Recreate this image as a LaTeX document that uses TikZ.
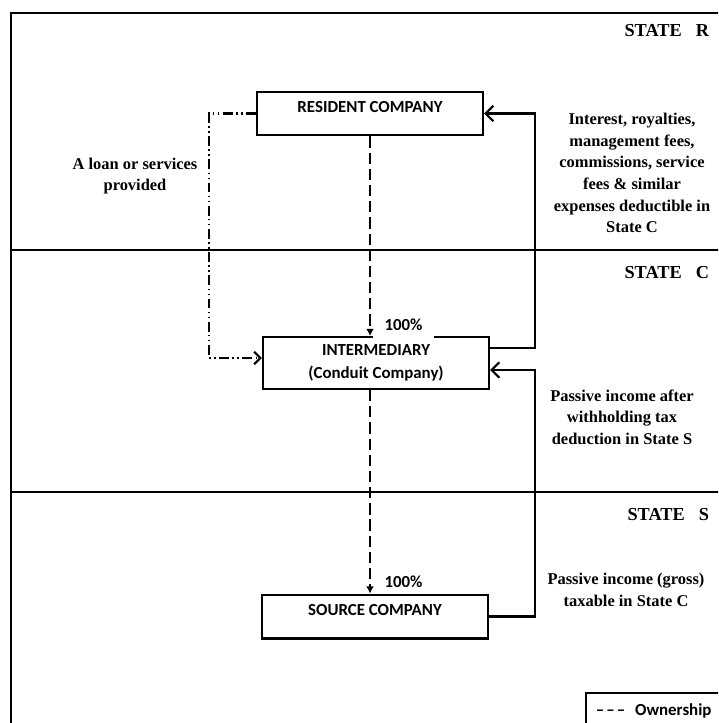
\documentclass[tikz,border=0pt]{standalone}
\usepackage{fontspec}
\setmainfont{Liberation Serif}
\newfontfamily\calfont{Carlito}
\usetikzlibrary{arrows.meta}
\usetikzlibrary{positioning}
\tikzset{company/.style = {draw, line width=1.5pt, minimum width=5.65cm,
                           font=\calfont\bfseries\fontsize{12}{16.4}\selectfont},
         oneline/.style = {text height=14.8pt, text depth=16.4pt, inner ysep=0pt},
         note/.style = {font=\fontsize{11.7}{15.4}\selectfont\bfseries, align=center},
         state/.style = {font=\fontsize{13}{15}\selectfont\bfseries, anchor=east},
         pct/.style = {font=\calfont\bfseries\fontsize{12}{14}\selectfont, fill=white, inner sep=1pt},
         own/.style = {line width=1.5pt, dash pattern=on 8pt off 3.5pt,
                       -{Latex[length=5pt,width=5.5pt]}},
         loan/.style = {line width=1.5pt,
                        dash pattern=on 7pt off 2.5pt on 1pt off 2.5pt on 1pt off 2.5pt,
                        -{Straight Barb[length=4.5pt,width=9pt]}},
         flow/.style = {line width=1.5pt, -{Straight Barb[length=5.5pt,width=11pt]}}}

\begin{document}
\begin{tikzpicture}[x=0.025cm, y=-0.025cm]
    \useasboundingbox (0,0) rectangle (718,723);
    \clip (0,0) rectangle (718,723);

    % states
    \draw [line width=1.8pt] (11,740) |- (740,13);
    \draw [line width=1.3pt] (11,250) -- (740,250);
    \draw [line width=1.3pt] (11,492) -- (740,492);
    \node [state] (stateR) at (714,31) {STATE\hspace{10pt}R};
    \node [state] (stateC) at (714,273) {STATE\hspace{10pt}C};
    \node [state] (stateS) at (714,515) {STATE\hspace{10pt}S};

    % companies
    \node [company, oneline] (resident) at (370,113.5) {RESIDENT COMPANY};
    \node [company, align=center, minimum height=1.3cm] (conduit) at (376,363) {INTERMEDIARY\\(Conduit Company)};
    \node [company, oneline] (source) at (375,616.5) {SOURCE COMPANY};

    \node [pct, inner xsep=8.3pt, inner ysep=6pt] (pctC) at (403.5,325) {100\%};
    \node [pct] (pctS) at (403.5,582) {100\%};

    % connectors
    \draw [own] (resident.south) -- (resident.south |- conduit.north);
    \draw [own] (conduit.south -| resident.south) -- (resident.south |- source.north);
    \draw [loan] (resident.west) -- ++(-47,0) |- ([yshift=0.125cm]conduit.west);
    \draw [flow] ([yshift=0.375cm]conduit.east) -- ++(45,0) |- (resident.east);
    \draw [flow] (source.east) -- ++(46,0) |- ([yshift=-0.175cm]conduit.east);

    \node [note] (loanText) at (135,176) {A loan or services\\provided};
    \node [note] (feesText) at (632,173) {Interest, royalties,\\management fees,\\commissions, service\\fees \& similar\\expenses deductible in\\State C};
    \node [note] (afterText) at (622,417) {Passive income after\\withholding tax\\deduction in State S};
    \node [note] (grossText) at (626,590) {Passive income (gross)\\taxable in State C};

    % legend
    \node [draw, line width=1.5pt, anchor=north west, text width=4cm, align=left,
           inner xsep=7pt, inner ysep=6pt, text height=10pt, text depth=20pt,
           font=\calfont\bfseries\fontsize{12}{14}\selectfont] (legend) at (585,692)
          {\textendash\kern1.5pt\textendash\kern1.5pt\textendash\hspace{7pt}Ownership};
\end{tikzpicture}
\end{document}
